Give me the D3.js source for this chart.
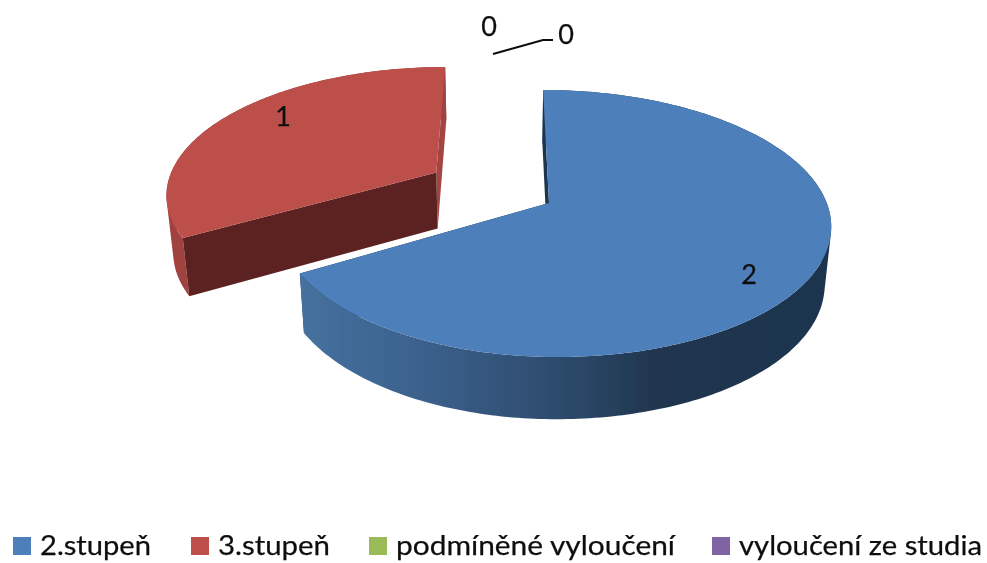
<!DOCTYPE html>
<html>
<head>
<meta charset="utf-8">
<script src="https://cdn.jsdelivr.net/npm/d3@7"></script>
<style>
	html, body { margin: 0; padding: 0; background: #fff; }
	svg { display: block; }
	text { font-family: Lato, "Open Sans", sans-serif; fill: #111; stroke: #111; stroke-width: 0.25px; }
</style>
</head>
<body>
<script>
const categories = ['2.stupeň', '3.stupeň', 'podmíněné vyloučení', 'vyloučení ze studia'];
const values = [2, 1, 0, 0];
const colors = ['#4d7fbb', '#bd4f4c', '#9bbb59', '#8064a2'];

const width = 987;
const height = 563;

// fake 3D: a flat disc seen in perspective, then pushed down for the side walls
const vanishX = 505;
const centerY = 203;
const radiusX = 275;
const radiusY = 130.4;
const perspective = 0.1536;
const depth = 57;
const bottomShrink = 0.98;
const centerOffset = 0.16;
const explode = [0, 0.484, 0, 0];
// the blue disc is not quite symmetric in the original
const stretchRight = [1.01, 1];
const stretchLeft = [0.98, 1];

const sideDark = ['#1f3550', '#5c2320'];

const svg = d3.select('body').append('svg')
	.attr('width', width)
	.attr('height', height);

const defs = svg.append('defs');
defs.append('filter').attr('id', 'soft')
	.attr('x', '-5%').attr('y', '-5%').attr('width', '110%').attr('height', '110%')
	.append('feGaussianBlur').attr('stdDeviation', 0.55);

const blueRim = defs.append('linearGradient').attr('id', 'rim0')
	.attr('gradientUnits', 'userSpaceOnUse')
	.attr('x1', 300).attr('x2', 831).attr('y1', 0).attr('y2', 0);
[[0, '#46719f'], [0.25, '#3a5f8a'], [0.53, '#2b4767'], [0.66, '#203650'], [1, '#1f3550']].forEach((s) => {
	blueRim.append('stop').attr('offset', s[0]).attr('stop-color', s[1]);
});

const chart = svg.append('g').attr('filter', 'url(#soft)');

const pie = d3.pie().sort(null).value((d) => d);
const arcs = pie(values);

const line = d3.line().x((p) => p[0]).y((p) => p[1]);

// angle is clockwise from the back of the pie, level 0 is top surface, 1 is bottom
function project(arc, i, angle, r, level) {
	const mid = (arc.startAngle + arc.endAngle) / 2;
	const s = Math.sin(angle);
	const stretch = s > 0 ? stretchRight[i] : stretchLeft[i];
	const px = centerOffset + explode[i] * Math.sin(mid) + r * s * stretch;
	const py = -explode[i] * Math.cos(mid) - r * Math.cos(angle);
	const d = 1 / (1 - perspective * py);
	const shrink = level ? bottomShrink : 1;
	return [
		vanishX + px * radiusX * d * shrink,
		centerY + py * radiusY * d + level * depth * (0.5 + 0.5 * d)
	];
}

function rimAngles(arc) {
	return d3.range(arc.startAngle, arc.endAngle, Math.PI / 180).concat(arc.endAngle);
}

function rimPoints(arc, i, level) {
	return rimAngles(arc).map((a) => project(arc, i, a, 1, level));
}

function face(arc, i, angle) {
	return [
		project(arc, i, angle, 0, 0),
		project(arc, i, angle, 1, 0),
		project(arc, i, angle, 1, 1),
		project(arc, i, angle, 0, 1)
	];
}

// wall as small quads in one path, all wound the same way so the fold at the
// rim does not cancel itself and no seams show between them
function wallPath(arc, i) {
	return d3.pairs(rimAngles(arc)).map((p) => {
		const quad = [
			project(arc, i, p[0], 1, 0),
			project(arc, i, p[1], 1, 0),
			project(arc, i, p[1], 1, 1),
			project(arc, i, p[0], 1, 1)
		];
		if (d3.polygonArea(quad) < 0) quad.reverse();
		return line(quad) + 'Z';
	}).join('');
}

function drawSlice(arc, i) {
	if (arc.value === 0) return;
	const g = chart.append('g');

	g.append('path')
		.attr('d', line(face(arc, i, arc.endAngle)) + 'Z')
		.attr('fill', i === 1 ? '#a44442' : sideDark[i]);

	g.append('path')
		.attr('d', wallPath(arc, i))
		.attr('fill', i === 0 ? 'url(#rim0)' : '#a04341');

	g.append('path')
		.attr('d', line(face(arc, i, arc.startAngle)) + 'Z')
		.attr('fill', sideDark[i]);

	const top = [project(arc, i, 0, 0, 0)].concat(rimPoints(arc, i, 0));
	g.append('path')
		.attr('d', line(top) + 'Z')
		.attr('fill', colors[i]);
}

// red one sits behind, draw it first
drawSlice(arcs[1], 1);
drawSlice(arcs[0], 0);

// the two empty slices share a leader line
chart.append('path')
	.attr('d', line([[493, 54], [543, 40], [553, 40]]))
	.attr('fill', 'none')
	.attr('stroke', '#111')
	.attr('stroke-width', 2.2);

const labelSpots = [[749, 284], [283, 126], [489, 36], [566, 44]];
chart.selectAll('text.value')
	.data(values)
	.enter().append('text')
	.attr('class', 'value')
	.attr('x', (d, i) => labelSpots[i][0])
	.attr('y', (d, i) => labelSpots[i][1])
	.attr('text-anchor', 'middle')
	.attr('font-size', 27)
	.text((d) => d);

// legend
const legendX = [13, 191, 369, 712];
const legendTextLen = [111, 112, 279, 243];
const legend = chart.selectAll('g.legend')
	.data(categories)
	.enter().append('g')
	.attr('class', 'legend')
	.attr('transform', (d, i) => 'translate(' + legendX[i] + ',0)');

legend.append('rect')
	.attr('y', 537)
	.attr('width', 18)
	.attr('height', 18)
	.attr('fill', (d, i) => colors[i]);

legend.append('text')
	.attr('x', 27)
	.attr('y', 555)
	.attr('font-size', 27)
	.attr('textLength', (d, i) => legendTextLen[i])
	.attr('lengthAdjust', 'spacingAndGlyphs')
	.text((d) => d);
</script>
</body>
</html>
